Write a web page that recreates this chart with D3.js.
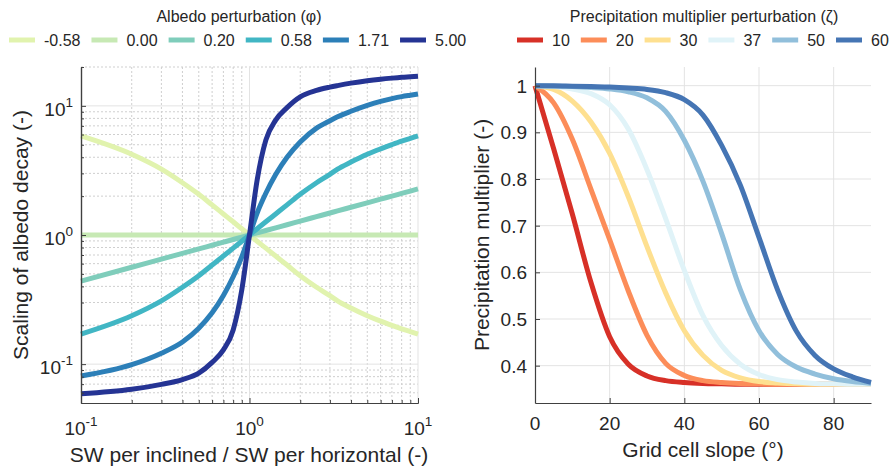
<!DOCTYPE html>
<html>
<head>
<meta charset="utf-8">
<script src="https://cdn.jsdelivr.net/npm/d3@7"></script>
<style>
  body { margin: 0; background: #fff; }
  text { font-family: "Liberation Sans", Arial, sans-serif; fill: #262626; }
</style>
</head>
<body>
<svg id="fig" width="892" height="471"></svg>
<script>
// ---- left panel: albedo decay scaling vs SW ratio ----
const albedoLabels = ['-0.58', '0.00', '0.20', '0.58', '1.71', '5.00'];
const albedoColors = ['#e1f3ae', '#c7e9b4', '#7fcdbb', '#41b6c4', '#2c7fb8', '#253494'];
const swRatio = [0.1, 0.2, 0.3, 0.4, 0.5, 0.6, 0.7, 0.8, 0.9, 1,
                 1.11, 1.25, 1.43, 1.67, 2, 2.5, 3, 3.33, 4, 5, 6, 7, 8, 9, 10];
const albedoM058 = [5.848, 4.217, 3.236, 2.54, 2.065, 1.71, 1.455, 1.265, 1.117, 1,
                    0.895, 0.791, 0.687, 0.585, 0.484, 0.394, 0.339, 0.309, 0.272, 0.237, 0.215, 0.1995, 0.1875, 0.1786, 0.171];
const albedo000 = [1, 1, 1, 1, 1, 1, 1, 1, 1, 1,
                   1, 1, 1, 1, 1, 1, 1, 1, 1, 1, 1, 1, 1, 1, 1];
const albedo020 = [0.44, 0.563, 0.651, 0.721, 0.781, 0.833, 0.88, 0.923, 0.963, 1,
                   1.038, 1.083, 1.136, 1.2, 1.281, 1.387, 1.48, 1.537, 1.64, 1.776, 1.896, 2.0, 2.1, 2.19, 2.275];
const albedo058 = [0.171, 0.237, 0.309, 0.394, 0.484, 0.585, 0.687, 0.791, 0.895, 1,
                   1.117, 1.265, 1.455, 1.71, 2.065, 2.54, 2.95, 3.236, 3.67, 4.217, 4.645, 5.012, 5.333, 5.598, 5.848];
const albedo171 = [0.0809, 0.0991, 0.1216, 0.1486, 0.19, 0.25, 0.34, 0.475, 0.676, 1,
                   1.479, 2.104, 2.938, 4.0, 5.26, 6.73, 7.67, 8.22, 9.08, 10.09, 10.84, 11.38, 11.8, 12.1, 12.36];
const albedo500 = [0.0589, 0.0638, 0.0697, 0.0759, 0.0851, 0.1031, 0.1288, 0.184, 0.376, 1,
                   2.66, 5.43, 7.76, 9.7, 11.75, 13.18, 13.96, 14.35, 15.0, 15.67, 16.1, 16.4, 16.63, 16.83, 16.98];
const albedoSeries = [albedoM058, albedo000, albedo020, albedo058, albedo171, albedo500];

// ---- right panel: precipitation multiplier vs slope ----
const precipLabels = ['10', '20', '30', '37', '50', '60'];
const precipColors = ['#d73027', '#fc8d59', '#fee090', '#e0f3f8', '#91bfdb', '#4575b4'];
const slope = [0, 5, 10, 15, 20, 25, 30, 35, 40, 45, 50, 55, 60, 65, 70, 75, 80, 85, 90];
const precip10 = [1, 0.865, 0.725, 0.578, 0.462, 0.403, 0.378, 0.368, 0.364, 0.362, 0.361, 0.36, 0.36, 0.36, 0.36, 0.36, 0.36, 0.36, 0.36];
const precip20 = [1, 0.963, 0.885, 0.778, 0.67, 0.56, 0.465, 0.405, 0.379, 0.368, 0.364, 0.362, 0.361, 0.36, 0.36, 0.36, 0.36, 0.36, 0.36];
const precip30 = [1, 0.992, 0.967, 0.922, 0.855, 0.762, 0.655, 0.556, 0.475, 0.422, 0.39, 0.374, 0.366, 0.363, 0.361, 0.36, 0.36, 0.36, 0.36];
const precip37 = [1, 0.998, 0.993, 0.983, 0.959, 0.907, 0.82, 0.715, 0.604, 0.507, 0.443, 0.403, 0.381, 0.37, 0.365, 0.362, 0.361, 0.36, 0.36];
const precip50 = [1, 0.999, 0.998, 0.996, 0.993, 0.987, 0.974, 0.945, 0.883, 0.795, 0.683, 0.563, 0.475, 0.424, 0.397, 0.382, 0.372, 0.366, 0.362];
const precip60 = [1, 1, 0.999, 0.998, 0.997, 0.995, 0.992, 0.985, 0.97, 0.937, 0.872, 0.787, 0.675, 0.562, 0.474, 0.422, 0.393, 0.376, 0.364];
const precipSeries = [precip10, precip20, precip30, precip37, precip50, precip60];

const svg = d3.select('#fig');
const axisColor = '#404040';

function grid(g, lines, dashed) {
	g.selectAll(null).data(lines).enter().append('line')
		.attr('x1', d => d[0]).attr('y1', d => d[1])
		.attr('x2', d => d[2]).attr('y2', d => d[3])
		.style('stroke', dashed ? '#cfcfcf' : '#e3e3e3')
		.style('stroke-width', 1)
		.style('stroke-dasharray', dashed ? '2,2' : null);
}

function styleAxis(g) {
	g.select('.domain').style('stroke', axisColor).style('stroke-width', 1.2);
	g.selectAll('.tick line').style('stroke', axisColor);
	g.selectAll('.tick text').remove();
}

function powLabel(g, x, y, exp, anchor) {
	const t = g.append('text').attr('x', x).attr('y', y)
		.attr('text-anchor', anchor).style('font-size', '19px');
	t.append('tspan').text('10');
	t.append('tspan').attr('dy', -9).style('font-size', '13.5px').text(exp);
}

function legend(title, labels, colors, x0, titleX) {
	const g = svg.append('g');
	g.append('text').attr('x', titleX).attr('y', 22).attr('text-anchor', 'middle')
		.style('font-size', '16px').text(title);
	let x = x0;
	labels.forEach((lab, i) => {
		g.append('line').attr('x1', x).attr('x2', x + 26).attr('y1', 40).attr('y2', 40)
			.style('stroke', colors[i]).style('stroke-width', 5);
		const t = g.append('text').attr('x', x + 35).attr('y', 46)
			.style('font-size', '16px').text(lab);
		x += 35 + t.node().getComputedTextLength() + 11;
	});
}

// ---------- left panel ----------
const xL = d3.scaleLog().domain([0.1, 10]).range([81, 418]);
const yL = d3.scaleLog().domain([0.05, 20]).range([403, 67]);
const left = svg.append('g');

const xMinorL = [0.2, 0.3, 0.4, 0.5, 0.6, 0.7, 0.8, 0.9, 2, 3, 4, 5, 6, 7, 8, 9];
const yMinorL = [0.06, 0.07, 0.08, 0.09, 0.2, 0.3, 0.4, 0.5, 0.6, 0.7, 0.8, 0.9, 2, 3, 4, 5, 6, 7, 8, 9, 20];
grid(left, xMinorL.map(v => [xL(v), 67, xL(v), 403]), true);
grid(left, yMinorL.map(v => [81, yL(v), 418, yL(v)]), true);
grid(left, [1, 10].map(v => [xL(v), 67, xL(v), 403]), false);
grid(left, [0.1, 1, 10].map(v => [81, yL(v), 418, yL(v)]), false);

const lineL = d3.line().x((d, i) => xL(swRatio[i])).y(d => yL(d)).curve(d3.curveMonotoneX);
left.selectAll('path.series').data(albedoSeries).enter().append('path')
	.attr('class', 'series')
	.attr('d', lineL)
	.style('fill', 'none')
	.style('stroke', (d, i) => albedoColors[i])
	.style('stroke-width', 5)
	.style('stroke-linejoin', 'round');

left.append('g').attr('transform', 'translate(0,403)')
	.call(d3.axisBottom(xL).tickValues([0.1, 1, 10]).tickSizeInner(-5).tickSizeOuter(0)).call(styleAxis);
left.append('g').attr('transform', 'translate(0,403)')
	.call(d3.axisBottom(xL).tickValues(xMinorL).tickSizeInner(-3).tickSizeOuter(0)).call(styleAxis);
left.append('g').attr('transform', 'translate(81,0)')
	.call(d3.axisLeft(yL).tickValues([0.1, 1, 10]).tickSizeInner(-5).tickSizeOuter(0)).call(styleAxis);
left.append('g').attr('transform', 'translate(81,0)')
	.call(d3.axisLeft(yL).tickValues(yMinorL).tickSizeInner(-3).tickSizeOuter(0)).call(styleAxis);

[[0.1, '-1'], [1, '0'], [10, '1']].forEach(d => powLabel(left, xL(d[0]), 435, d[1], 'middle'));
[[0.1, '-1'], [1, '0'], [10, '1']].forEach(d => powLabel(left, 73, yL(d[0]) + 10, d[1], 'end'));

left.append('text').attr('x', 249).attr('y', 462).attr('text-anchor', 'middle')
	.style('font-size', '21px').text('SW per inclined / SW per horizontal (-)');
left.append('text').attr('transform', 'translate(28,235) rotate(-90)').attr('text-anchor', 'middle')
	.style('font-size', '21px').text('Scaling of albedo decay (-)');

// ---------- right panel ----------
const xR = d3.scaleLinear().domain([0, 90]).range([535, 871]);
const yR = d3.scaleLinear().domain([0.32, 1.04]).range([403, 67]);
const right = svg.append('g');
const xTicksR = [0, 20, 40, 60, 80];
const yTicksR = [0.4, 0.5, 0.6, 0.7, 0.8, 0.9, 1];

grid(right, xTicksR.slice(1).map(v => [xR(v), 67, xR(v), 403]), false);
grid(right, yTicksR.map(v => [535, yR(v), 871, yR(v)]), false);

const lineR = d3.line().x((d, i) => xR(slope[i])).y(d => yR(d)).curve(d3.curveMonotoneX);
right.selectAll('path.series').data(precipSeries).enter().append('path')
	.attr('class', 'series')
	.attr('d', lineR)
	.style('fill', 'none')
	.style('stroke', (d, i) => precipColors[i])
	.style('stroke-width', 5)
	.style('stroke-linejoin', 'round');

right.append('g').attr('transform', 'translate(0,403)')
	.call(d3.axisBottom(xR).tickValues(xTicksR).tickSizeInner(-5).tickSizeOuter(0)).call(styleAxis);
right.append('g').attr('transform', 'translate(535,0)')
	.call(d3.axisLeft(yR).tickValues(yTicksR).tickSizeInner(-5).tickSizeOuter(0)).call(styleAxis);

right.selectAll('text.xt').data(xTicksR).enter().append('text').attr('class', 'xt')
	.attr('x', d => xR(d)).attr('y', 430).attr('text-anchor', 'middle')
	.style('font-size', '19px').text(d => d);
right.selectAll('text.yt').data(yTicksR).enter().append('text').attr('class', 'yt')
	.attr('x', 527).attr('y', d => yR(d) + 7).attr('text-anchor', 'end')
	.style('font-size', '19px').text(d => d === 1 ? '1' : d3.format('.1f')(d));

right.append('text').attr('x', 703).attr('y', 457).attr('text-anchor', 'middle')
	.style('font-size', '21px').text('Grid cell slope (°)');
right.append('text').attr('transform', 'translate(489,235) rotate(-90)').attr('text-anchor', 'middle')
	.style('font-size', '21px').text('Precipitation multiplier (-)');

// ---------- legends ----------
legend('Albedo perturbation (φ)', albedoLabels, albedoColors, 9, 239);
legend('Precipitation multiplier perturbation (ζ)', precipLabels, precipColors, 517, 704);
</script>
</body>
</html>
